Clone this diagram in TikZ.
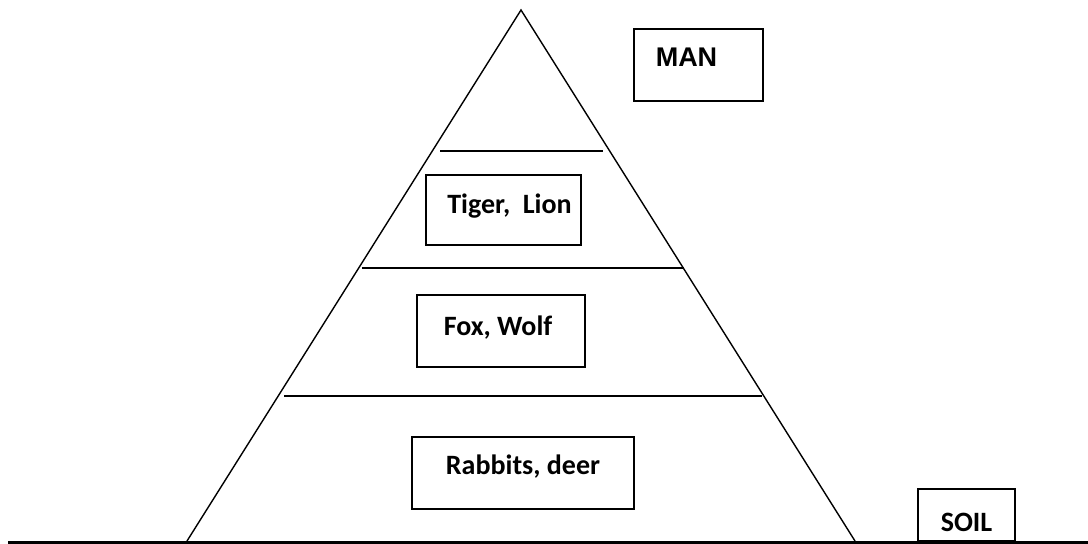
\documentclass[tikz,border=0pt]{standalone}
\usepackage{fontspec}
\setmainfont{Carlito}
\newfontfamily\arialfont{Liberation Sans}
\begin{document}
\begin{tikzpicture}[x=1pt,y=-1pt,
  boxst/.style={draw, line width=1.4pt, inner sep=0pt},
  lab/.style={font=\fontsize{28}{32}\selectfont\bfseries},
  thin/.style={line width=1.4pt},
  ground/.style={line width=3.5pt}]
\useasboundingbox (0,0) rectangle (1088,544);
% pyramid
\coordinate (apex) at (521,10);
\coordinate (bl) at (187,541);
\coordinate (br) at (855,541);
\draw[thin] (bl) -- (apex) -- (br);
% level lines
\coordinate (l1a) at (440,151); \coordinate (l1b) at (603,151);
\coordinate (l2a) at (362,268); \coordinate (l2b) at (684,268);
\coordinate (l3a) at (284,396); \coordinate (l3b) at (762,396);
\draw[thin] (l1a) -- (l1b);
\draw[thin] (l2a) -- (l2b);
\draw[thin] (l3a) -- (l3b);
% ground
\coordinate (g0) at (8,542.5); \coordinate (g1) at (1088,542.5);
\draw[ground] (g0) -- (g1);
% boxes
\node[boxst, minimum width=129pt, minimum height=72pt,
  label={[lab, font=\arialfont\fontsize{27}{30}\selectfont\bfseries, xshift=-12pt, yshift=8pt]center:MAN}] (man) at (698.5,65) {};
\node[boxst, minimum width=155pt, minimum height=70pt,
  label={[lab, xshift=6pt, yshift=4pt]center:Tiger,\ \ Lion}] (tiger) at (503.5,210) {};
\node[boxst, minimum width=168pt, minimum height=72pt,
  label={[lab, xshift=-3pt, yshift=3pt]center:Fox, Wolf}] (fox) at (501,331) {};
\node[boxst, minimum width=222pt, minimum height=72pt,
  label={[lab, yshift=6pt]center:Rabbits, deer}] (rabbit) at (523,473) {};
\node[boxst, minimum width=97pt, minimum height=52pt,
  label={[lab, yshift=-7pt]center:SOIL}] (soil) at (966.5,515) {};
\end{tikzpicture}
\end{document}
